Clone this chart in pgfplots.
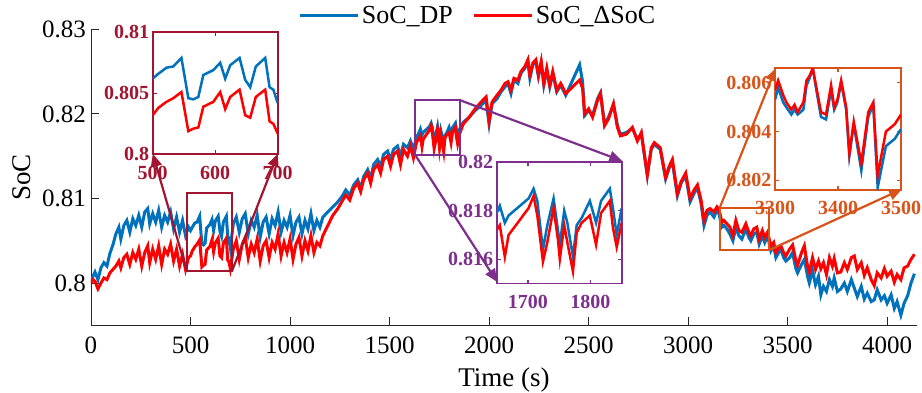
\documentclass[border=0pt]{standalone}
\usepackage{fontspec}
\setmainfont{Liberation Serif}
\usepackage{pgfplots}
\pgfplotsset{compat=1.18}
\usepackage{pgfplotstable}
\usetikzlibrary{arrows.meta}
\definecolor{mblue}{rgb}{0,0.447,0.741}
\definecolor{dred}{rgb}{0.635,0.078,0.184}
\definecolor{mpurp}{rgb}{0.494,0.184,0.556}
\definecolor{morange}{rgb}{0.85,0.325,0.098}

\pgfplotstableread{
t b r
0 0.8000 0.8000
10 0.8008 0.8004
20 0.8013 0.8002
35 0.8004 0.7993
50 0.8018 0.8000
65 0.8024 0.8006
80 0.8020 0.8004
95 0.8035 0.8012
110 0.8045 0.8016
125 0.8058 0.8020
140 0.8066 0.8026
150 0.8052 0.8018
165 0.8068 0.8030
180 0.8074 0.8034
195 0.8060 0.8022
210 0.8076 0.8036
225 0.8068 0.8028
240 0.8080 0.8040
255 0.8066 0.8020
270 0.8084 0.8036
285 0.8088 0.8044
295 0.8070 0.8024
310 0.8082 0.8040
325 0.8072 0.8028
340 0.8086 0.8044
355 0.8066 0.8022
370 0.8080 0.8040
385 0.8072 0.8034
400 0.8084 0.8046
415 0.8064 0.8026
430 0.8078 0.8040
445 0.8060 0.8020
460 0.8074 0.8034
475 0.8056 0.8016
490 0.8066 0.8030
500 0.8062 0.8032
509 0.8066 0.8038
522 0.8071 0.8043
533 0.8072 0.8046
546 0.8079 0.8051
557 0.8046 0.8019
565 0.8045 0.8021
573 0.8047 0.8022
581 0.8065 0.8039
597 0.8069 0.8043
608 0.8075 0.8051
616 0.8062 0.8037
624 0.8073 0.8047
639 0.8079 0.8053
648 0.8061 0.8032
656 0.8055 0.8030
665 0.8072 0.8047
680 0.8079 0.8053
687 0.8055 0.8027
693 0.8053 0.8025
700 0.8042 0.8017
715 0.8070 0.8040
730 0.8078 0.8050
745 0.8060 0.8028
760 0.8076 0.8046
775 0.8082 0.8054
790 0.8058 0.8030
805 0.8074 0.8046
820 0.8066 0.8036
835 0.8080 0.8052
850 0.8054 0.8026
865 0.8072 0.8044
880 0.8078 0.8050
895 0.8058 0.8030
910 0.8076 0.8048
925 0.8068 0.8040
940 0.8084 0.8058
955 0.8060 0.8032
970 0.8074 0.8048
985 0.8066 0.8036
1000 0.8080 0.8052
1015 0.8056 0.8028
1030 0.8072 0.8046
1045 0.8078 0.8054
1060 0.8058 0.8032
1075 0.8074 0.8050
1090 0.8064 0.8038
1105 0.8082 0.8056
1120 0.8062 0.8036
1135 0.8074 0.8048
1150 0.8066 0.8044
1165 0.8078 0.8056
1190 0.8084 0.8068
1215 0.8090 0.8080
1240 0.8096 0.8088
1260 0.8102 0.8096
1280 0.8110 0.8104
1300 0.8104 0.8098
1320 0.8116 0.8112
1340 0.8122 0.8118
1355 0.8112 0.8108
1370 0.8126 0.8122
1390 0.8134 0.8130
1405 0.8124 0.8118
1420 0.8140 0.8134
1440 0.8146 0.8140
1455 0.8138 0.8130
1470 0.8152 0.8146
1490 0.8156 0.8150
1505 0.8146 0.8138
1520 0.8158 0.8152
1540 0.8162 0.8156
1555 0.8150 0.8140
1570 0.8164 0.8158
1590 0.8160 0.8150
1605 0.8168 0.8162
1620 0.8158 0.8148
1635 0.8172 0.8166
1650 0.8179 0.8172
1655 0.8182 0.8174
1663 0.8175 0.8161
1669 0.8178 0.8170
1701 0.8185 0.8181
1709 0.8189 0.8186
1715 0.8184 0.8178
1724 0.8164 0.8159
1731 0.8174 0.8167
1741 0.8185 0.8181
1748 0.8172 0.8168
1751 0.8166 0.8160
1758 0.8180 0.8174
1763 0.8175 0.8167
1772 0.8161 0.8155
1778 0.8174 0.8171
1786 0.8177 0.8175
1799 0.8184 0.8178
1809 0.8175 0.8166
1817 0.8184 0.8179
1831 0.8189 0.8184
1836 0.8181 0.8173
1842 0.8170 0.8165
1850 0.8181 0.8175
1870 0.8190 0.8188
1900 0.8196 0.8196
1930 0.8204 0.8206
1960 0.8210 0.8214
1985 0.8216 0.8220
2000 0.8188 0.8192
2015 0.8212 0.8214
2040 0.8218 0.8222
2060 0.8226 0.8228
2080 0.8232 0.8236
2095 0.8236 0.8238
2110 0.8224 0.8228
2125 0.8240 0.8242
2145 0.8236 0.8240
2160 0.8248 0.8250
2180 0.8254 0.8256
2195 0.8262 0.8264
2205 0.8242 0.8246
2220 0.8258 0.8260
2235 0.8262 0.8264
2248 0.8244 0.8246
2262 0.8260 0.8262
2275 0.8234 0.8236
2290 0.8252 0.8254
2305 0.8232 0.8234
2320 0.8248 0.8250
2340 0.8226 0.8228
2360 0.8234 0.8236
2385 0.8222 0.8224
2420 0.8240 0.8232
2455 0.8258 0.8240
2470 0.8238 0.8230
2480 0.8198 0.8200
2500 0.8204 0.8206
2520 0.8198 0.8196
2545 0.8218 0.8216
2560 0.8225 0.8224
2580 0.8188 0.8186
2600 0.8196 0.8194
2625 0.8211 0.8212
2645 0.8186 0.8184
2660 0.8176 0.8174
2690 0.8178 0.8176
2720 0.8183 0.8184
2745 0.8170 0.8168
2765 0.8176 0.8178
2795 0.8127 0.8128
2815 0.8158 0.8160
2830 0.8164 0.8166
2860 0.8158 0.8160
2887 0.8123 0.8125
2905 0.8136 0.8138
2921 0.8143 0.8146
2946 0.8103 0.8106
2965 0.8118 0.8120
2988 0.8127 0.8130
3010 0.8096 0.8100
3030 0.8106 0.8110
3047 0.8113 0.8116
3065 0.8094 0.8098
3080 0.8068 0.8074
3095 0.8080 0.8086
3110 0.8084 0.8088
3130 0.8078 0.8084
3145 0.8086 0.8090
3155 0.8082 0.8087
3170 0.8066 0.8072
3180 0.8068 0.8074
3195 0.8064 0.8070
3210 0.8058 0.8066
3225 0.8050 0.8056
3240 0.8066 0.8074
3255 0.8056 0.8062
3270 0.8052 0.8060
3290 0.8064 0.8070
3305 0.8054 0.8060
3315 0.8050 0.8056
3330 0.8058 0.8064
3345 0.8060 0.8066
3357 0.8046 0.8052
3373 0.8056 0.8062
3385 0.8048 0.8054
3399 0.8056 0.8060
3416 0.8038 0.8044
3430 0.8044 0.8048
3441 0.8030 0.8036
3455 0.8036 0.8042
3466 0.8040 0.8044
3480 0.8030 0.8036
3491 0.8026 0.8032
3510 0.8030 0.8040
3525 0.8036 0.8045
3540 0.8018 0.8028
3550 0.8012 0.8021
3570 0.8022 0.8036
3584 0.8028 0.8044
3600 0.8008 0.8020
3609 0.8000 0.8013
3625 0.8015 0.8030
3640 0.7998 0.8016
3655 0.8008 0.8026
3667 0.7986 0.8017
3680 0.7996 0.8024
3695 0.7990 0.8010
3710 0.8004 0.8030
3725 0.7996 0.8020
3734 0.8006 0.8029
3750 0.7990 0.8012
3767 0.7993 0.8013
3785 0.8000 0.8024
3800 0.7990 0.8016
3820 0.8004 0.8030
3835 0.7994 0.8032
3850 0.7984 0.8016
3870 0.7996 0.8024
3885 0.7981 0.8009
3900 0.7988 0.8018
3920 0.7978 0.8004
3935 0.7980 0.7997
3950 0.7992 0.8012
3970 0.7980 0.8006
3986 0.7985 0.8017
4000 0.7976 0.8008
4020 0.7986 0.8014
4036 0.7970 0.8001
4050 0.7978 0.8010
4069 0.7962 0.8004
4085 0.7976 0.8018
4103 0.7985 0.8020
4120 0.8000 0.8028
4137 0.8011 0.8034
}\main

\pgfplotstableread{
t b r
500 0.8062 0.8032
509 0.8066 0.8038
522 0.8071 0.8043
533 0.8072 0.8046
546 0.8079 0.8051
557 0.8046 0.8019
565 0.8045 0.8021
573 0.8047 0.8022
581 0.8065 0.8039
597 0.8069 0.8043
608 0.8075 0.8051
616 0.8062 0.8037
624 0.8073 0.8047
639 0.8079 0.8053
648 0.8061 0.8032
656 0.8055 0.8030
665 0.8072 0.8047
680 0.8079 0.8053
687 0.8055 0.8027
693 0.8053 0.8025
700 0.8042 0.8017
}\insA

\pgfplotstableread{
t b r
1650 0.8179 0.8172
1655 0.8182 0.8174
1663 0.8175 0.8161
1669 0.8178 0.8170
1701 0.8185 0.8181
1709 0.8189 0.8186
1715 0.8184 0.8178
1724 0.8164 0.8159
1731 0.8174 0.8167
1741 0.8185 0.8181
1748 0.8172 0.8168
1751 0.8166 0.8160
1758 0.8180 0.8174
1763 0.8175 0.8167
1772 0.8161 0.8155
1778 0.8174 0.8171
1786 0.8177 0.8175
1799 0.8184 0.8178
1809 0.8175 0.8166
1817 0.8184 0.8179
1831 0.8189 0.8184
1836 0.8181 0.8173
1842 0.8170 0.8165
1850 0.8181 0.8175
}\insB

\pgfplotstableread{
t b r
3300 0.8053 0.8057
3305 0.8058 0.8061
3313 0.8052 0.8055
3318 0.8050 0.8052
3326 0.8047 0.8049
3331 0.8049 0.8051
3336 0.8047 0.8048
3345 0.8049 0.8052
3350 0.8059 0.8061
3355 0.8062 0.8063
3360 0.8066 0.8066
3365 0.8058 0.8059
3373 0.8046 0.8048
3381 0.8045 0.8047
3389 0.8057 0.8059
3394 0.8049 0.8050
3399 0.8052 0.8053
3405 0.8060 0.8061
3413 0.8049 0.8050
3418 0.8030 0.8031
3425 0.8043 0.8044
3437 0.8024 0.8027
3448 0.8046 0.8048
3456 0.8051 0.8052
3463 0.8017 0.8022
3476 0.8034 0.8040
3490 0.8037 0.8043
3500 0.8041 0.8047
}\insC

\pgfplotsset{
  inset/.style={
    scale only axis, anchor=south west,
    axis background/.style={fill=white},
    tick align=inside, major tick length=4pt,
    axis line style={#1, line width=1.8pt},
    tick style={#1, line width=1.2pt},
    ticklabel style={text=#1, font=\fontsize{20}{23}\selectfont\bfseries},
    xticklabel style={yshift=-8pt},
    /pgf/number format/assume math mode=true,
  },
}

\begin{document}
\begin{tikzpicture}
\useasboundingbox (-91pt,-67.7pt) rectangle (831pt,325.3pt);
\begin{axis}[
  at={(0pt,0pt)}, anchor=south west,
  width=826pt, height=296pt, scale only axis,
  xmin=0, xmax=4150, ymin=0.795, ymax=0.83,
  axis x line*=bottom, axis y line*=left,
  axis line style={-, black!85, line width=0.8pt},
  tick align=inside, major tick length=8pt,
  tick style={black!85, line width=0.8pt},
  xtick={0,500,1000,1500,2000,2500,3000,3500,4000},
  xticklabels={0,500,1000,1500,2000,2500,3000,3500,4000},
  ytick={0.8,0.81,0.82,0.83},
  yticklabels={0.8,0.81,0.82,0.83},
  ticklabel style={font=\fontsize{25}{29}\selectfont},
  xticklabel style={yshift=-8pt},
  yticklabel style={xshift=-1.5pt},
  xlabel={Time (s)}, ylabel={SoC},
  label style={font=\fontsize{27}{31}\selectfont},
  xlabel style={at={(axis description cs:0.5,-0.185)}, anchor=center},
  ylabel style={at={(axis description cs:-0.0835,0.5)}, anchor=center},
  legend columns=2,
  legend style={at={(axis description cs:0.4685,1.047)}, anchor=center,
    draw=none, fill=none, font=\fontsize{26}{30}\selectfont,
    /tikz/every even column/.append style={column sep=18pt}},
  legend image code/.code={\draw[#1] (0pt,0pt) -- (58pt,0pt);},
]
\addplot[mblue, line width=3pt] table[x=t,y=b] {\main};
\addlegendentry{SoC\_DP}
\addplot[red, line width=3pt] table[x=t,y=r] {\main};
\addlegendentry{SoC\_ΔSoC}

\draw[dred, line width=2pt] (axis cs:481,0.8014) rectangle (axis cs:708,0.8106);
\draw[dred, line width=2.2pt, -{Triangle[length=13pt,width=11pt]}] (axis cs:481,0.8014) -- (axis cs:310.4,0.81529);
\draw[dred, line width=2.2pt, -{Triangle[length=13pt,width=11pt]}] (axis cs:708,0.8014) -- (axis cs:939,0.81529);

\draw[mpurp, line width=2pt] (axis cs:1630,0.8151) rectangle (axis cs:1856,0.8216);
\draw[mpurp, line width=2.2pt, -{Triangle[length=13pt,width=11pt]}] (axis cs:1856,0.8216) -- (axis cs:2669.5,0.81442);
\draw[mpurp, line width=2.2pt, -{Triangle[length=13pt,width=11pt]}] (axis cs:1630,0.8151) -- (axis cs:2040.7,0.80012);

\draw[morange, line width=2pt] (axis cs:3159,0.8039) rectangle (axis cs:3407,0.8089);
\draw[morange, line width=2.2pt, -{Triangle[length=13pt,width=11pt]}] (axis cs:3159,0.8089) -- (axis cs:3440.6,0.82541);
\draw[morange, line width=2.2pt, -{Triangle[length=13pt,width=11pt]}] (axis cs:3407,0.8039) -- (axis cs:4074.5,0.81109);
\end{axis}

\begin{axis}[inset=dred, at={(61.7pt,171pt)}, width=125pt, height=122pt,
  xmin=500, xmax=700, ymin=0.8, ymax=0.81,
  xtick={500,600,700}, xticklabels={500,600,700},
  ytick={0.8,0.805,0.81}, yticklabels={0.8,0.805,0.81}]
\addplot[mblue, line width=2.5pt] table[x=t,y=b] {\insA};
\addplot[red, line width=2.5pt] table[x=t,y=r] {\insA};
\end{axis}

\begin{axis}[inset=mpurp, at={(405.7pt,41.7pt)}, width=125pt, height=121.6pt,
  xmin=1650, xmax=1850, ymin=0.815, ymax=0.82,
  xtick={1700,1800}, xticklabels={1700,1800},
  ytick={0.816,0.818,0.82}, yticklabels={0.816,0.818,0.82}]
\addplot[mblue, line width=2.5pt] table[x=t,y=b] {\insB};
\addplot[red, line width=2.5pt] table[x=t,y=r] {\insB};
\end{axis}

\begin{axis}[inset=morange, at={(684pt,135.3pt)}, width=126pt, height=121.7pt,
  xmin=3300, xmax=3500, ymin=0.8016, ymax=0.8066,
  xtick={3300,3400,3500}, xticklabels={3300,3400,3500},
  ytick={0.802,0.804,0.806}, yticklabels={0.802,0.804,0.806}]
\addplot[mblue, line width=2.5pt] table[x=t,y=b] {\insC};
\addplot[red, line width=2.5pt] table[x=t,y=r] {\insC};
\end{axis}
\end{tikzpicture}
\end{document}
